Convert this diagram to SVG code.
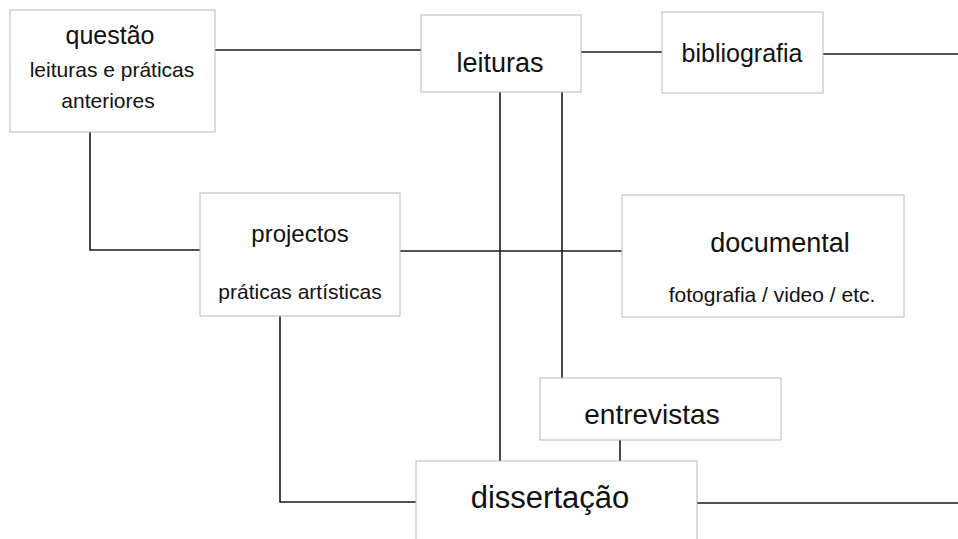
<svg xmlns="http://www.w3.org/2000/svg" width="958" height="539" viewBox="0 0 958 539">
<style>
.box{fill:#fff;stroke:#b8b8b8;stroke-width:1}
.ln{fill:none;stroke:#1a1a1a;stroke-width:1.6}
.t{font-family:"Liberation Sans",Arial,sans-serif;fill:#111;text-anchor:middle}
</style>
<rect width="958" height="539" fill="#fff"/>
<g id="connectors">
<line class="ln" x1="215" y1="50" x2="421" y2="50"/>
<line class="ln" x1="581" y1="52" x2="662" y2="52"/>
<line class="ln" x1="823" y1="54" x2="958" y2="54"/>
<polyline class="ln" points="90,132 90,250 200,250"/>
<line class="ln" x1="400" y1="251" x2="622" y2="251"/>
<line class="ln" x1="500" y1="92" x2="500" y2="461"/>
<line class="ln" x1="562" y1="92" x2="562" y2="378"/>
<line class="ln" x1="620" y1="440" x2="620" y2="461"/>
<polyline class="ln" points="280,316 280,502 416,502"/>
<line class="ln" x1="697" y1="503" x2="958" y2="503"/>
</g>
<g id="questao">
<rect class="box" x="10" y="10" width="205" height="122"/>
<text class="t" x="110" y="44" font-size="25">questão</text>
<text class="t" x="112" y="77" font-size="21">leituras e práticas</text>
<text class="t" x="108" y="108" font-size="21">anteriores</text>
</g>
<g id="leituras">
<rect class="box" x="421" y="15" width="160" height="77"/>
<text class="t" x="500" y="72" font-size="27">leituras</text>
</g>
<g id="bibliografia">
<rect class="box" x="662" y="12" width="161" height="81"/>
<text class="t" x="742" y="62" font-size="25">bibliografia</text>
</g>
<g id="projectos">
<rect class="box" x="200" y="193" width="200" height="123"/>
<text class="t" x="300" y="242" font-size="24">projectos</text>
<text class="t" x="300" y="299" font-size="21">práticas artísticas</text>
</g>
<g id="documental">
<rect class="box" x="622" y="195" width="282" height="122"/>
<text class="t" x="780" y="252" font-size="27">documental</text>
<text class="t" x="772" y="302" font-size="21">fotografia / video / etc.</text>
</g>
<g id="entrevistas">
<rect class="box" x="540" y="378" width="241" height="62"/>
<text class="t" x="652" y="424" font-size="28">entrevistas</text>
</g>
<g id="dissertacao">
<rect class="box" x="416" y="461" width="281" height="90"/>
<text class="t" x="550" y="508" font-size="31">dissertação</text>
</g>
</svg>
